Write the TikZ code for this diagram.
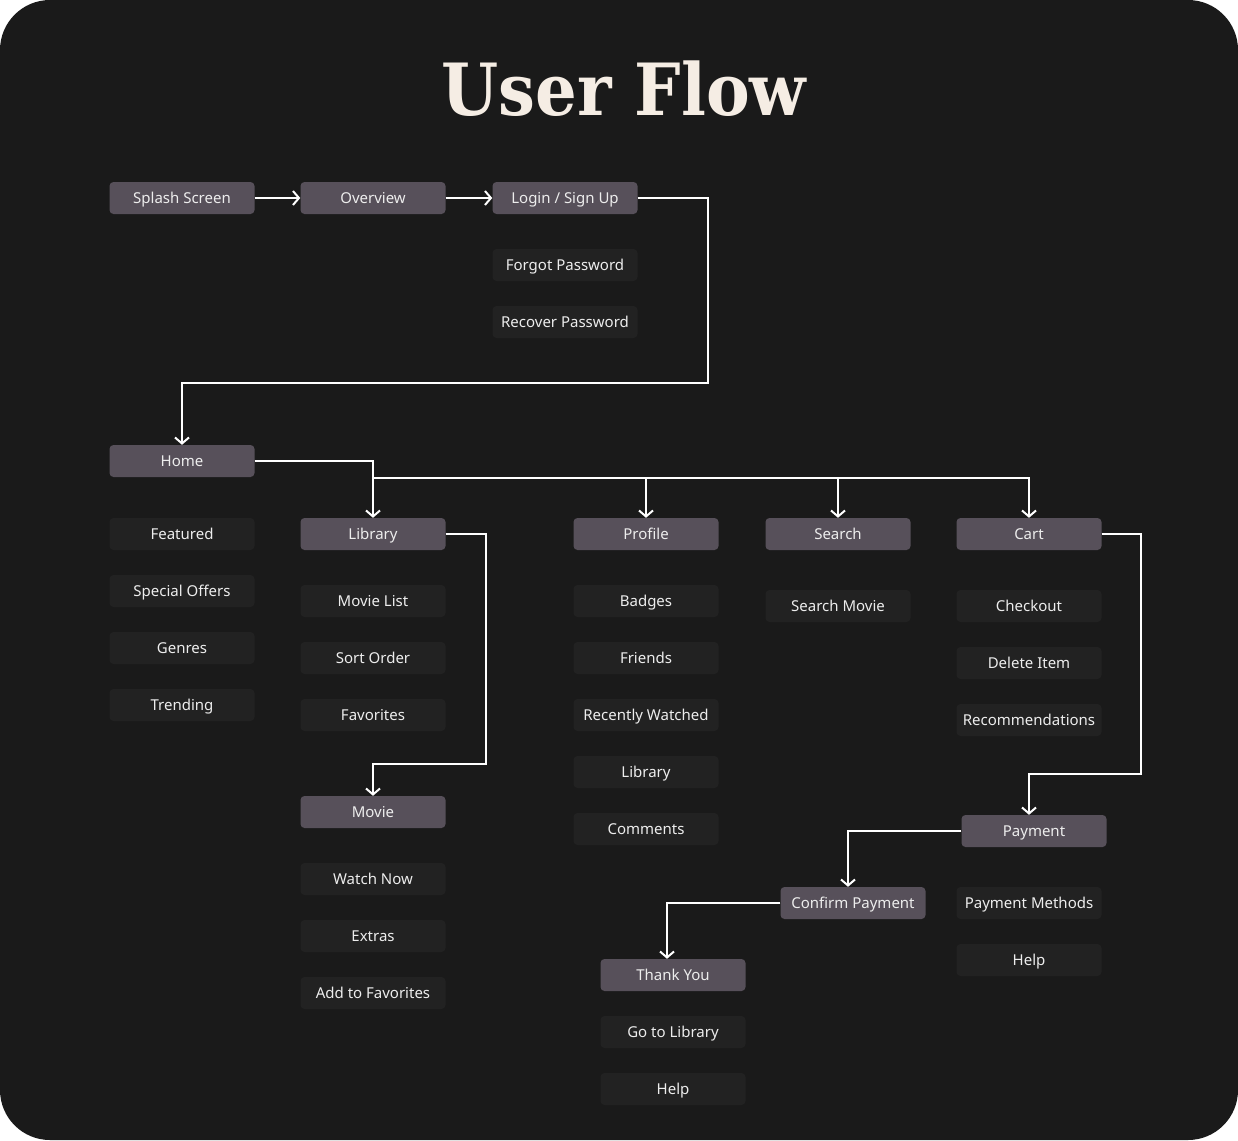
\documentclass[tikz,border=0pt]{standalone}
\usepackage{fontspec}
\setmainfont{Noto Sans}
\newfontfamily\titlefont{DejaVu Serif}
\usetikzlibrary{arrows.meta}
\definecolor{bgdark}{HTML}{1A1A1A}
\definecolor{boxmain}{HTML}{57505A}
\definecolor{boxsub}{HTML}{222222}
\definecolor{boxtext}{HTML}{EDEDED}
\definecolor{titlecream}{HTML}{F5EDE4}
\tikzset{
  mainbox/.style={fill=boxmain, rounded corners=4pt, minimum width=145pt, minimum height=32pt,
    inner sep=0pt, text height=13pt, text depth=1.5pt, text=boxtext, font=\fontsize{15}{17}\selectfont},
  subbox/.style={mainbox, fill=boxsub},
  flow/.style={draw=white, line width=2pt, -{Straight Barb[length=6pt,width=14pt]}},
  link/.style={draw=white, line width=2pt}
}

\begin{document}
\begin{tikzpicture}[x=1pt,y=-1pt]
		%%%%% START %%%%%
		
		\useasboundingbox (0,0) rectangle (1238,1140);
		\fill[bgdark, rounded corners=50pt] (0,0) rectangle (1238,1140);
		
		\node[text=titlecream, xscale=0.91] (title) at (624,89) {\titlefont\bfseries\fontsize{72}{72}\selectfont User Flow};
		
		\node[mainbox] (splash) at (182,198) {Splash Screen};
		\node[mainbox] (overview) at (373,198) {Overview};
		\node[mainbox] (login) at (565,198) {Login / Sign Up};
		\node[subbox] (forgot) at (565,265) {Forgot Password};
		\node[subbox] (recover) at (565,322) {Recover Password};
		
		\node[mainbox] (home) at (182,461) {Home};
		\node[subbox] (featured) at (182,534) {Featured};
		\node[subbox] (offers) at (182,591) {Special Offers};
		\node[subbox] (genres) at (182,648) {Genres};
		\node[subbox] (trending) at (182,705) {Trending};
		
		\node[mainbox] (library) at (373,534) {Library};
		\node[subbox] (movielist) at (373,601) {Movie List};
		\node[subbox] (sortorder) at (373,658) {Sort Order};
		\node[subbox] (favorites) at (373,715) {Favorites};
		
		\node[mainbox] (movie) at (373,812) {Movie};
		\node[subbox] (watchnow) at (373,879) {Watch Now};
		\node[subbox] (extras) at (373,936) {Extras};
		\node[subbox] (addfav) at (373,993) {Add to Favorites};
		
		\node[mainbox] (profile) at (646,534) {Profile};
		\node[subbox] (badges) at (646,601) {Badges};
		\node[subbox] (friends) at (646,658) {Friends};
		\node[subbox] (recent) at (646,715) {Recently Watched};
		\node[subbox] (proflib) at (646,772) {Library};
		\node[subbox] (comments) at (646,829) {Comments};
		
		\node[mainbox] (search) at (838,534) {Search};
		\node[subbox] (searchmovie) at (838,606) {Search Movie};
		
		\node[mainbox] (cart) at (1029,534) {Cart};
		\node[subbox] (checkout) at (1029,606) {Checkout};
		\node[subbox] (deleteitem) at (1029,663) {Delete Item};
		\node[subbox] (recommend) at (1029,720) {Recommendations};
		
		\node[mainbox] (payment) at (1034,831) {Payment};
		\node[subbox] (paymethods) at (1029,903) {Payment Methods};
		\node[subbox] (payhelp) at (1029,960) {Help};
		
		\node[mainbox] (confirm) at (853,903) {Confirm Payment};
		
		\node[mainbox] (thankyou) at (673,975) {Thank You};
		\node[subbox] (golibrary) at (673,1032) {Go to Library};
		\node[subbox] (tyhelp) at (673,1089) {Help};
		
		% connectors
		\draw[flow] (splash) -- (overview);
		\draw[flow] (overview) -- (login);
		\draw[flow] (login.east) -| (708,383) -| (home.north);
		
		\coordinate (bus) at (373,478);
		\draw[flow] (home.east) -| (library.north);
		\draw[link] (bus) -- (1029,478);
		\draw[flow] (bus) -| (profile.north);
		\draw[flow] (bus) -| (search.north);
		\draw[flow] (bus) -| (cart.north);
		
		\draw[flow] (library.east) -| (486,764) -| (movie.north);
		\draw[flow] (cart.east) -| (1141,774) -| (cart |- payment.north);
		\draw[flow] (payment.west) -| ([xshift=-5pt]confirm.north);
		\draw[flow] (confirm.west) -| ([xshift=-6pt]thankyou.north);
		
		%%%%% END %%%%%
\end{tikzpicture}
\end{document}
